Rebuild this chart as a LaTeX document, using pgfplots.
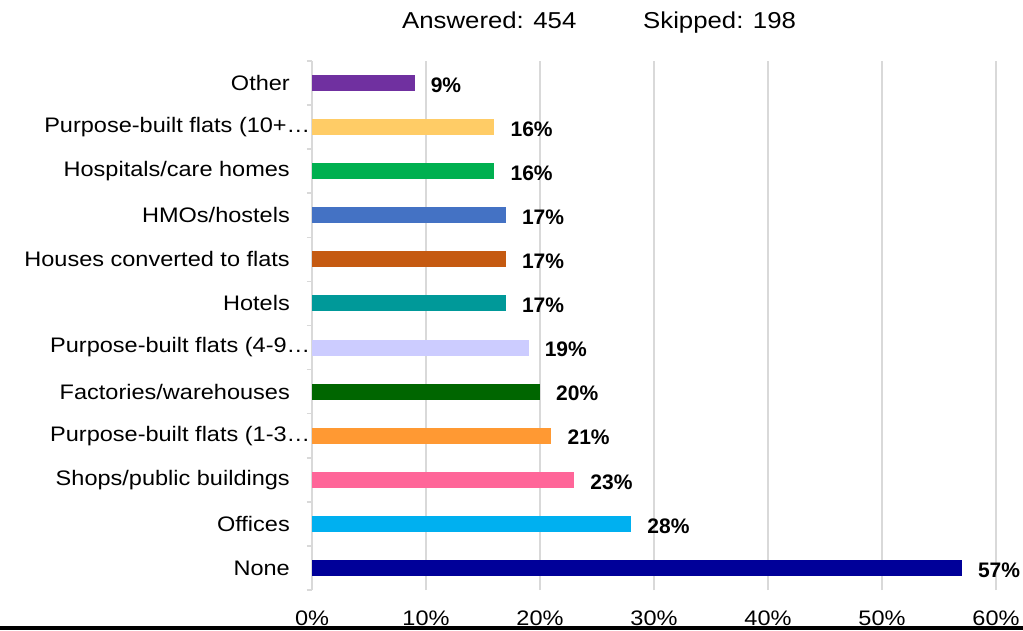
\documentclass[border=0pt]{standalone}
\usepackage{fontspec}
\setmainfont{Liberation Sans}[FakeStretch=1.12]
\newfontfamily\valfont{Liberation Sans Bold}
\usepackage{pgfplots}
\pgfplotsset{compat=1.18}

\definecolor{gridgray}{HTML}{D9D9D9}
\definecolor{cOther}{HTML}{7030A0}
\definecolor{cTen}{HTML}{FFCC66}
\definecolor{cHosp}{HTML}{00B050}
\definecolor{cHmo}{HTML}{4472C4}
\definecolor{cHouse}{HTML}{C55A11}
\definecolor{cHotel}{HTML}{009999}
\definecolor{cFour}{HTML}{CCCCFF}
\definecolor{cFact}{HTML}{006600}
\definecolor{cOne}{HTML}{FF9933}
\definecolor{cShop}{HTML}{FF6699}
\definecolor{cOffice}{HTML}{00B0F0}
\definecolor{cNone}{HTML}{000099}

% truncated labels run up to the axis line
\newcommand{\trunc}[1]{\makebox[0pt][r]{#1\kern-21pt}}

\begin{document}
\fontsize{21}{25}\selectfont
\begin{tikzpicture}[x=1pt,y=1pt]
\path[use as bounding box] (0,0) rectangle (1023,630);
\begin{axis}[
    at={(312pt,40pt)}, anchor=south west,
    scale only axis,
    width=684pt, height=529pt,
    xmin=0, xmax=60,
    ymin=-0.5, ymax=11.5,
    xbar, bar width=16pt, bar shift=0pt,
    axis lines*=left,
    x axis line style={draw=none},
    y axis line style={gridgray, line width=1.5pt},
    xtick={0,10,...,60},
    xticklabels={0\%,10\%,20\%,30\%,40\%,50\%,60\%},
    xmajorgrids,
    major grid style={gridgray, line width=1.5pt},
    ytick={0,...,11},
    yticklabels={None, Offices, Shops/public buildings, \trunc{Purpose-built flats (1-3…},
        Factories/warehouses, \trunc{Purpose-built flats (4-9…}, Hotels,
        Houses converted to flats, HMOs/hostels, Hospitals/care homes,
        \trunc{Purpose-built flats (10+…}, Other},
    minor ytick={-0.5,0.5,...,11.5},
    tick align=outside,
    major tick length=0pt,
    minor tick length=5pt,
    minor tick style={gridgray, line width=1.5pt},
    xticklabel style={anchor=base, inner sep=0pt, yshift=-35pt},
    yticklabel style={anchor=east, inner sep=0pt, xshift=-22pt},
    point meta=x,
    /pgf/number format/assume math mode=true,
    nodes near coords={\valfont\pgfmathprintnumber{\pgfplotspointmeta}\%},
    every node near coord/.append style={anchor=west, inner sep=0pt, xshift=16pt, yshift=-2pt, text=black},
]
\addplot[fill=cNone, draw=none] coordinates {(57,0)};
\addplot[fill=cOffice, draw=none] coordinates {(28,1)};
\addplot[fill=cShop, draw=none] coordinates {(23,2)};
\addplot[fill=cOne, draw=none] coordinates {(21,3)};
\addplot[fill=cFact, draw=none] coordinates {(20,4)};
\addplot[fill=cFour, draw=none] coordinates {(19,5)};
\addplot[fill=cHotel, draw=none] coordinates {(17,6)};
\addplot[fill=cHouse, draw=none] coordinates {(17,7)};
\addplot[fill=cHmo, draw=none] coordinates {(17,8)};
\addplot[fill=cHosp, draw=none] coordinates {(16,9)};
\addplot[fill=cTen, draw=none] coordinates {(16,10)};
\addplot[fill=cOther, draw=none] coordinates {(9,11)};
\end{axis}
\begingroup\fontsize{23}{27}\selectfont
\node[anchor=base west, inner sep=0pt] at (402,601) {Answered: 454};
\node[anchor=base west, inner sep=0pt] at (643,601) {Skipped: 198};
\endgroup
\draw[line width=4pt] (0,2) -- (1023,2);
\end{tikzpicture}
\end{document}
